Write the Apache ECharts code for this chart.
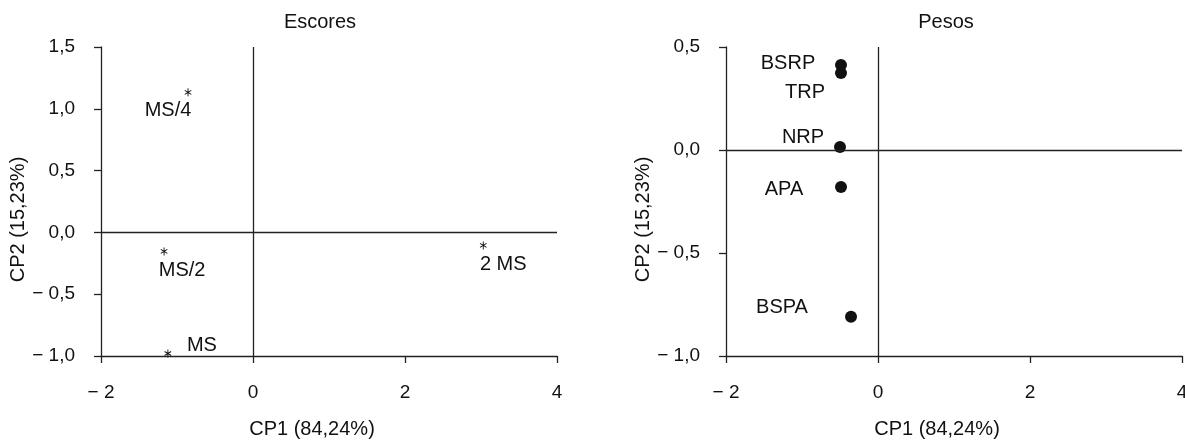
<!DOCTYPE html>
<html>
<head>
<meta charset="utf-8">
<script src="https://cdn.jsdelivr.net/npm/echarts@6/dist/echarts.min.js"></script>
<style>
html,body{margin:0;padding:0;background:#fff;}
#c{width:1185px;height:442px;}
</style>
</head>
<body>
<div id="c"></div>
<script>
// ---- Data ----
const scoreNames = ['MS/4', 'MS/2', 'MS', '2 MS'];
const scoreCP1 = [-0.855, -1.17, -1.12, 3.03];
const scoreCP2 = [1.133, -0.154, -0.98, -0.105];

const weightNames = ['BSRP', 'TRP', 'NRP', 'APA', 'BSPA'];
const weightCP1 = [-0.487, -0.487, -0.50, -0.487, -0.355];
const weightCP2 = [0.413, 0.374, 0.015, -0.18, -0.81];

const titles = ['Escores', 'Pesos'];
const xAxisName = 'CP1 (84,24%)';
const yAxisName = 'CP2 (15,23%)';

// label placement (pixels, relative to point)
const scoreLabelOffsets = [[-20, 18], [18, 19], [34, -8], [20, 19]];
const weightLabelOffsets = [[-53, -1], [-36, 20], [-37, -9], [-57, 2], [-69, -9]];

const FONT = 'Liberation Sans, Arial, Helvetica, sans-serif';
const TXT = '#111111';
const LINE = '#222222';
const MARK = '#111111';

function fmt(v, dec) {
  let s = dec ? Math.abs(v).toFixed(1).replace('.', ',') : String(Math.abs(v));
  return v < 0 ? '\u2212 ' + s : s;
}

const asterisk = 'path://M-0.12,-1L0.12,-1L0.12,1L-0.12,1Z' +
  'M0.806,-0.604L0.926,-0.396L-0.806,0.604L-0.926,0.396Z' +
  'M0.926,0.396L0.806,0.604L-0.926,-0.396L-0.806,-0.604Z';

function xAxisCfg(gi) {
  return {
    type: 'value', gridIndex: gi, min: -2, max: 4, interval: 2,
    name: xAxisName, nameLocation: 'middle', nameGap: 63,
    nameTextStyle: {fontSize: 20, fontFamily: FONT, color: TXT, padding: [0, 34, 0, 0]},
    axisLine: {show: true, onZero: false, lineStyle: {color: LINE, width: 1.3}},
    axisTick: {show: true, inside: false, length: 7, lineStyle: {color: LINE, width: 1.3}},
    axisLabel: {fontSize: 19, fontFamily: FONT, color: TXT, margin: 27, formatter: v => fmt(v, false)},
    splitLine: {show: false}
  };
}
function yAxisCfg(gi, min, max) {
  return {
    type: 'value', gridIndex: gi, min: min, max: max, interval: 0.5,
    name: yAxisName, nameLocation: 'middle', nameGap: 65, nameRotate: 90,
    nameTextStyle: {fontSize: 20, fontFamily: FONT, color: TXT, padding: [0, 36, 0, 0]},
    axisLine: {show: true, onZero: false, lineStyle: {color: LINE, width: 1.3}},
    axisTick: {show: true, inside: false, length: 7, lineStyle: {color: LINE, width: 1.3}},
    axisLabel: {fontSize: 19, fontFamily: FONT, color: TXT, margin: 26, formatter: v => fmt(v, true)},
    splitLine: {show: false}
  };
}

const refLines = {
  silent: true, symbol: ['none', 'none'], animation: false,
  label: {show: false},
  lineStyle: {color: LINE, width: 1.3, type: 'solid'},
  data: [{xAxis: 0}, {yAxis: 0}]
};

const scoreData = scoreNames.map((n, i) => ({
  name: n, value: [scoreCP1[i], scoreCP2[i]],
  label: {offset: scoreLabelOffsets[i]}
}));
const weightData = weightNames.map((n, i) => ({
  name: n, value: [weightCP1[i], weightCP2[i]],
  label: {offset: weightLabelOffsets[i]}
}));

const labelCfg = {show: true, position: 'inside', formatter: '{b}', fontSize: 20, fontFamily: FONT, color: TXT};

const chart = echarts.init(document.getElementById('c'));
chart.setOption({
  animation: false,
  backgroundColor: '#fff',
  grid: [
    {left: 101, top: 47, width: 456, height: 309, containLabel: false, outerBoundsMode: 'none'},
    {left: 726, top: 47, width: 456, height: 309, containLabel: false, outerBoundsMode: 'none'}
  ],
  xAxis: [xAxisCfg(0), xAxisCfg(1)],
  yAxis: [yAxisCfg(0, -1, 1.5), yAxisCfg(1, -1, 0.5)],
  graphic: [
    {type: 'text', x: 320, y: 22, style: {text: titles[0], fontSize: 20, fontFamily: FONT, fill: TXT, align: 'center', verticalAlign: 'middle'}},
    {type: 'text', x: 946, y: 22, style: {text: titles[1], fontSize: 20, fontFamily: FONT, fill: TXT, align: 'center', verticalAlign: 'middle'}}
  ],
  series: [
    {
      type: 'scatter', xAxisIndex: 0, yAxisIndex: 0, data: scoreData,
      symbol: asterisk, symbolSize: [7, 8],
      itemStyle: {color: MARK, opacity: 1},
      label: labelCfg,
      emphasis: {disabled: true},
      markLine: refLines, z: 3
    },
    {
      type: 'scatter', xAxisIndex: 1, yAxisIndex: 1, data: weightData,
      symbol: 'circle', symbolSize: 12,
      itemStyle: {color: MARK, opacity: 1},
      label: labelCfg,
      emphasis: {disabled: true},
      markLine: refLines, z: 3
    }
  ]
});
</script>
</body>
</html>
